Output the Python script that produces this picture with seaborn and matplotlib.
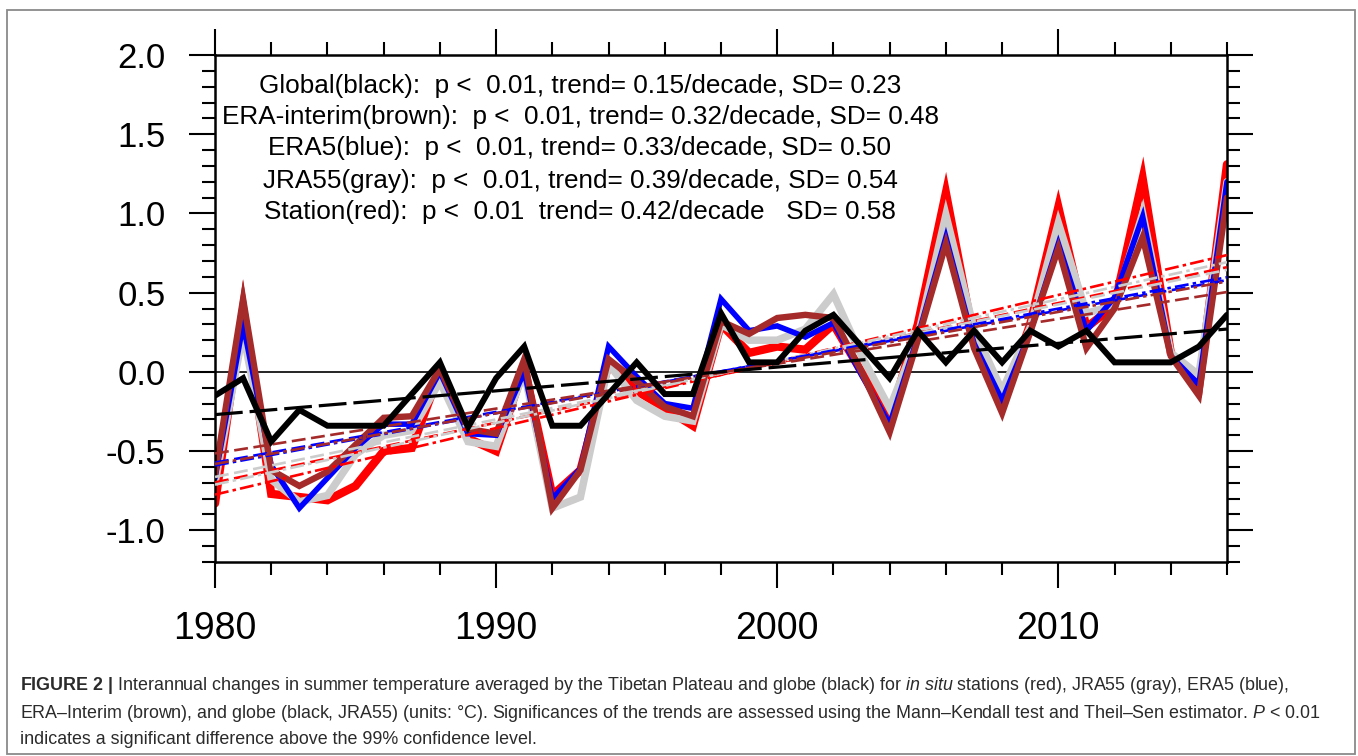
import numpy as np
import pandas as pd
import matplotlib
matplotlib.use("Agg")
import matplotlib.pyplot as plt
import seaborn as sns
from matplotlib.ticker import FixedLocator, MultipleLocator, FormatStrFormatter
from matplotlib.patches import Rectangle

# ---------------- data ----------------
years = list(range(1980, 2017))

station = [-0.83, 0.40, -0.77, -0.79, -0.81, -0.72, -0.50, -0.48, 0.00, -0.42,
           -0.50, 0.03, -0.78, -0.62, 0.05, -0.12, -0.23, -0.34, 0.30, 0.12,
           0.16, 0.14, 0.30, 0.00, -0.30, 0.30, 1.13, 0.20, -0.20, 0.30,
           1.04, 0.28, 0.42, 1.22, 0.12, -0.10, 1.31]

jra55 = [-0.70, 0.25, -0.68, -0.82, -0.78, -0.52, -0.40, -0.37, -0.06, -0.44,
         -0.47, 0.00, -0.86, -0.79, 0.05, -0.18, -0.28, -0.31, 0.30, 0.20,
         0.20, 0.27, 0.49, 0.10, -0.23, 0.22, 0.99, 0.27, -0.12, 0.28,
         0.94, 0.37, 0.42, 1.00, 0.12, -0.02, 1.20]

era5 = [-0.67, 0.30, -0.59, -0.86, -0.67, -0.48, -0.33, -0.33, 0.00, -0.39,
        -0.40, 0.00, -0.80, -0.61, 0.16, -0.03, -0.20, -0.23, 0.46, 0.26,
        0.29, 0.22, 0.31, -0.02, -0.33, 0.22, 0.85, 0.18, -0.18, 0.25,
        0.81, 0.26, 0.47, 0.98, 0.10, -0.08, 1.20]

era_interim = [-0.65, 0.46, -0.62, -0.72, -0.63, -0.46, -0.29, -0.28, 0.02, -0.36,
               -0.39, 0.08, -0.86, -0.62, 0.08, -0.06, -0.22, -0.28, 0.32, 0.24,
               0.34, 0.36, 0.34, 0.00, -0.38, 0.20, 0.81, 0.15, -0.26, 0.25,
               0.78, 0.15, 0.40, 0.85, 0.10, -0.15, 1.10]

globe = [-0.15, -0.04, -0.44, -0.24, -0.34, -0.34, -0.34, -0.14, 0.06, -0.35,
         -0.04, 0.16, -0.34, -0.34, -0.14, 0.06, -0.14, -0.14, 0.37, 0.06,
         0.06, 0.26, 0.36, 0.16, -0.04, 0.26, 0.06, 0.26, 0.06, 0.26,
         0.16, 0.26, 0.06, 0.06, 0.06, 0.16, 0.36]

# Trends stated in the figure (per decade)
trend_station = 0.42
trend_jra55 = 0.39
trend_era5 = 0.33
trend_era_interim = 0.32
trend_globe = 0.15

stat_lines = [
    "Global(black):  p <  0.01, trend= 0.15/decade, SD= 0.23",
    "ERA-interim(brown):  p <  0.01, trend= 0.32/decade, SD= 0.48",
    "ERA5(blue):  p <  0.01, trend= 0.33/decade, SD= 0.50",
    "JRA55(gray):  p <  0.01, trend= 0.39/decade, SD= 0.54",
    "Station(red):  p <  0.01  trend= 0.42/decade   SD= 0.58",
]

x_ticks = [1980, 1990, 2000, 2010]
x_ticklabels = ["1980", "1990", "2000", "2010"]
y_ticks = [-1.0, -0.5, 0.0, 0.5, 1.0, 1.5, 2.0]

caption_lines = [
    r"$\mathbf{FIGURE\ 2\ |}$ Interannual changes in summer temperature averaged by the Tibetan Plateau and globe (black) for $\mathit{in\ situ}$ stations (red), JRA55 (gray), ERA5 (blue),",
    r"ERA–Interim (brown), and globe (black, JRA55) (units: °C). Significances of the trends are assessed using the Mann–Kendall test and Theil–Sen estimator. $\mathit{P}$ < 0.01",
    "indicates a significant difference above the 99% confidence level.",
]

# ---------------- style ----------------
sns.set_theme(style="white")
plt.rcParams["font.family"] = ["Liberation Sans", "DejaVu Sans"]
plt.rcParams["axes.unicode_minus"] = False
plt.rcParams["lines.scale_dashes"] = False
plt.rcParams["mathtext.fontset"] = "custom"
plt.rcParams["mathtext.rm"] = "Liberation Sans"
plt.rcParams["mathtext.it"] = "Liberation Sans:italic"
plt.rcParams["mathtext.bf"] = "Liberation Sans:bold"

W, H = 1358, 756
fig = plt.figure(figsize=(W / 100, H / 100), dpi=100)
fig.patch.set_facecolor("white")
ax = fig.add_axes([215 / W, 1 - 562 / H, (1227 - 215) / W, (562 - 55) / H])
ax.set_facecolor("white")

df = pd.DataFrame({
    "year": years,
    "Station": station,
    "JRA55": jra55,
    "ERA5": era5,
    "ERA-Interim": era_interim,
    "Global": globe,
})

x = np.array(years, dtype=float)

series = [
    ("Station", "#ff0000", 6.0, trend_station),
    ("JRA55", "#cccccc", 5.4, trend_jra55),
    ("ERA5", "#0000ff", 4.0, trend_era5),
    ("ERA-Interim", "#a52a2a", 4.6, trend_era_interim),
]

# zero line
ax.axhline(0.0, color="black", lw=1.2, zorder=1)

# thick data lines
for name, col, lw, _ in series:
    sns.lineplot(data=df, x="year", y=name, color=col, lw=lw, ax=ax,
                 solid_joinstyle="miter", zorder=2)

# trend lines: OLS fit (dashed) and stated slope through the centroid (dash-dot)
for name, col, lw, slope in series:
    yv = df[name].to_numpy()
    m1, b1 = np.polyfit(x, yv, 1)
    tr = pd.DataFrame({"year": years, "t": m1 * x + b1})
    sns.lineplot(data=tr, x="year", y="t", color=col, lw=1.9, ax=ax, zorder=3)
    ax.lines[-1].set_dashes([10, 4])
    m2 = slope / 10.0
    b2 = np.mean(yv - m2 * x)
    tr2 = pd.DataFrame({"year": years, "t": m2 * x + b2})
    sns.lineplot(data=tr2, x="year", y="t", color=col, lw=1.9, ax=ax, zorder=3)
    ax.lines[-1].set_dashes([10, 3, 2.5, 3])

# global
sns.lineplot(data=df, x="year", y="Global", color="black", lw=4.3, ax=ax,
             solid_joinstyle="miter", zorder=4)
yg = df["Global"].to_numpy()
mg = trend_globe / 10.0
bg = np.mean(yg - mg * x)
trg = pd.DataFrame({"year": years, "t": mg * x + bg})
sns.lineplot(data=trg, x="year", y="t", color="black", lw=2.3, ax=ax, zorder=5)
ax.lines[-1].set_dashes([20, 5])

# ---------------- axes ----------------
ax.set_xlim(1980, 2016)
ax.set_ylim(-1.2, 2.0)
ax.set_xlabel("")
ax.set_ylabel("")
ax.xaxis.set_major_locator(FixedLocator(x_ticks))
ax.set_xticklabels(x_ticklabels)
ax.xaxis.set_minor_locator(MultipleLocator(2))
ax.yaxis.set_major_locator(FixedLocator(y_ticks))
ax.yaxis.set_major_formatter(FormatStrFormatter("%.1f"))
ax.yaxis.set_minor_locator(MultipleLocator(0.1))

for s in ax.spines.values():
    s.set_visible(True)
    s.set_color("black")
    s.set_linewidth(1.8)

ax.tick_params(which="both", direction="out", top=True, right=True,
               bottom=True, left=True, labeltop=False, labelright=False,
               color="black", width=1.5)
ax.tick_params(which="major", length=18.5, pad=17, labelcolor="black")
ax.tick_params(which="minor", length=9.2)
ax.tick_params(axis="x", which="major", labelsize=27)
ax.tick_params(axis="y", which="major", labelsize=25)

# stats annotation
ys_px = [86, 117, 148, 181, 212]
for txt, yp in zip(stat_lines, ys_px):
    ax.text((580 - 215) / (1227 - 215), (562 - yp) / (562 - 55), txt,
            transform=ax.transAxes, ha="center", va="center",
            fontsize=18.8, color="black")

# outer frame
fig.patches.append(Rectangle((7 / W, 1 - 754 / H), (1355 - 7) / W, (754 - 10) / H,
                             transform=fig.transFigure, fill=False,
                             edgecolor="#8a8a8a", lw=1.3))

# caption
for txt, yp in zip(caption_lines, [686, 713, 740]):
    fig.text(20 / W, 1 - yp / H, txt, ha="left", va="center",
             fontsize=12.9, color="#2b2b2b")

fig.savefig("out.png", dpi=100, facecolor="white")
